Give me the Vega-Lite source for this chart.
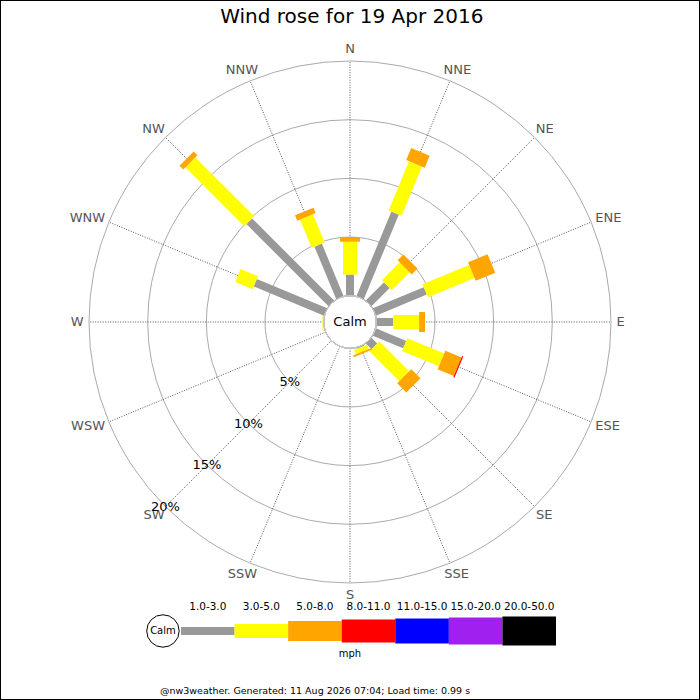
{
  "$schema": "https://vega.github.io/schema/vega-lite/v6.json",
  "width": 700,
  "height": 700,
  "padding": 0,
  "autosize": {"type": "none"},
  "background": "white",
  "config": {
    "font": "DejaVu Sans",
    "view": {"stroke": "black", "strokeWidth": 2},
    "axis": {"disable": true},
    "legend": {"disable": true}
  },
  "datasets": {
    "wind": [
      {"d": "N", "s": "1.0-3.0", "p": 1.8},
      {"d": "N", "s": "3.0-5.0", "p": 2.8},
      {"d": "N", "s": "5.0-8.0", "p": 0.4},
      {"d": "NNE", "s": "1.0-3.0", "p": 7.8},
      {"d": "NNE", "s": "3.0-5.0", "p": 4.55},
      {"d": "NNE", "s": "5.0-8.0", "p": 1.1},
      {"d": "NE", "s": "1.0-3.0", "p": 2.2},
      {"d": "NE", "s": "3.0-5.0", "p": 2.15},
      {"d": "NE", "s": "5.0-8.0", "p": 0.7},
      {"d": "ENE", "s": "1.0-3.0", "p": 4.7},
      {"d": "ENE", "s": "3.0-5.0", "p": 4.3},
      {"d": "ENE", "s": "5.0-8.0", "p": 1.8},
      {"d": "E", "s": "1.0-3.0", "p": 1.45},
      {"d": "E", "s": "3.0-5.0", "p": 2.2},
      {"d": "E", "s": "5.0-8.0", "p": 0.5},
      {"d": "ESE", "s": "1.0-3.0", "p": 2.8},
      {"d": "ESE", "s": "3.0-5.0", "p": 3.4},
      {"d": "ESE", "s": "5.0-8.0", "p": 1.5},
      {"d": "ESE", "s": "8.0-11.0", "p": 0.1},
      {"d": "SE", "s": "1.0-3.0", "p": 0.7},
      {"d": "SE", "s": "3.0-5.0", "p": 3.6},
      {"d": "SE", "s": "5.0-8.0", "p": 1.1},
      {"d": "SSE", "s": "1.0-3.0", "p": 0.1},
      {"d": "SSE", "s": "3.0-5.0", "p": 0.4},
      {"d": "SSE", "s": "5.0-8.0", "p": 0.15},
      {"d": "W", "s": "1.0-3.0", "p": 0},
      {"d": "W", "s": "3.0-5.0", "p": 0.1},
      {"d": "WNW", "s": "1.0-3.0", "p": 6.5},
      {"d": "WNW", "s": "3.0-5.0", "p": 1.6},
      {"d": "NW", "s": "1.0-3.0", "p": 9.9},
      {"d": "NW", "s": "3.0-5.0", "p": 7.1},
      {"d": "NW", "s": "5.0-8.0", "p": 0.45},
      {"d": "NNW", "s": "1.0-3.0", "p": 4.85},
      {"d": "NNW", "s": "3.0-5.0", "p": 2.6},
      {"d": "NNW", "s": "5.0-8.0", "p": 0.5}
    ],
    "dirs": [
      {"d": "N", "deg": 0}, {"d": "NNE", "deg": 22.5}, {"d": "NE", "deg": 45}, {"d": "ENE", "deg": 67.5},
      {"d": "E", "deg": 90}, {"d": "ESE", "deg": 112.5}, {"d": "SE", "deg": 135}, {"d": "SSE", "deg": 157.5},
      {"d": "S", "deg": 180}, {"d": "SSW", "deg": 202.5}, {"d": "SW", "deg": 225}, {"d": "WSW", "deg": 247.5},
      {"d": "W", "deg": 270}, {"d": "WNW", "deg": 292.5}, {"d": "NW", "deg": 315}, {"d": "NNW", "deg": 337.5}
    ],
    "rings": [{"p": 5}, {"p": 10}, {"p": 15}, {"p": 20}],
    "bins": [
      {"s": "1.0-3.0", "i": 0},
      {"s": "3.0-5.0", "i": 1},
      {"s": "5.0-8.0", "i": 2},
      {"s": "8.0-11.0", "i": 3},
      {"s": "11.0-15.0", "i": 4},
      {"s": "15.0-20.0", "i": 5},
      {"s": "20.0-50.0", "i": 6}
    ]
  },
  "layer": [
    {
      "data": {"name": "rings"},
      "mark": {"type": "arc", "filled": false, "stroke": "#aaaaaa", "strokeWidth": 1, "theta": 0, "theta2": 6.2832},
      "encoding": {
        "x": {"datum": 0, "type": "quantitative", "scale": {"domain": [-29.825, 29.825], "nice": false, "zero": false}},
        "y": {"datum": 0, "type": "quantitative", "scale": {"domain": [-32.211, 27.439], "nice": false, "zero": false}},
        "radius": {"field": "p", "type": "quantitative", "stack": null, "scale": {"type": "linear", "domain": [0, 20], "range": [26.3, 261], "zero": false, "nice": false}}
      }
    },
    {
      "data": {"name": "dirs"},
      "transform": [
        {"calculate": "datum.deg * PI / 180", "as": "a"},
        {"calculate": "2.241 * sin(datum.a)", "as": "x0"},
        {"calculate": "2.241 * cos(datum.a)", "as": "y0"},
        {"calculate": "22.241 * sin(datum.a)", "as": "x1"},
        {"calculate": "22.241 * cos(datum.a)", "as": "y1"}
      ],
      "mark": {"type": "rule", "stroke": "#555555", "strokeWidth": 1, "strokeDash": [1, 1.5]},
      "encoding": {
        "x": {"field": "x0", "type": "quantitative", "scale": {"domain": [-29.825, 29.825], "nice": false, "zero": false}},
        "y": {"field": "y0", "type": "quantitative", "scale": {"domain": [-32.211, 27.439], "nice": false, "zero": false}},
        "x2": {"field": "x1"},
        "y2": {"field": "y1"}
      }
    },
    {
      "data": {"name": "dirs"},
      "transform": [
        {"calculate": "datum.deg * PI / 180", "as": "a"},
        {"calculate": "8.25 * length(datum.d) + 1.45 * (length(datum.d) - length(replace(datum.d, regexp('N', 'g'), ''))) + 4.65 * (length(datum.d) - length(replace(datum.d, regexp('W', 'g'), '')))", "as": "w"},
        {"calculate": "(266.5 + datum.w / 2) * sin(datum.a) / 11.735", "as": "lx"},
        {"calculate": "273 * cos(datum.a) / 11.735", "as": "ly"}
      ],
      "mark": {"type": "text", "fontSize": 13, "fill": "#555555", "align": "center", "baseline": "middle"},
      "encoding": {
        "x": {"field": "lx", "type": "quantitative", "scale": {"domain": [-29.825, 29.825], "nice": false, "zero": false}},
        "y": {"field": "ly", "type": "quantitative", "scale": {"domain": [-32.211, 27.439], "nice": false, "zero": false}},
        "text": {"field": "d"}
      }
    },
    {
      "data": {"name": "wind"},
      "transform": [
        {"lookup": "s", "from": {"data": {"name": "bins"}, "key": "s", "fields": ["i"]}},
        {"lookup": "d", "from": {"data": {"name": "dirs"}, "key": "d", "fields": ["deg"]}},
        {"stack": "p", "groupby": ["d"], "sort": [{"field": "i", "order": "ascending"}], "as": ["p0", "p1"]},
        {"calculate": "datum.deg * PI / 180", "as": "a"},
        {"calculate": "(2.241 + datum.p0) * sin(datum.a)", "as": "x0"},
        {"calculate": "(2.241 + datum.p0) * cos(datum.a)", "as": "y0"},
        {"calculate": "(2.241 + datum.p1) * sin(datum.a)", "as": "x1"},
        {"calculate": "(2.241 + datum.p1) * cos(datum.a)", "as": "y1"},
        {"filter": "datum.p > 0"}
      ],
      "mark": {"type": "rule", "strokeCap": "butt"},
      "encoding": {
        "x": {"field": "x0", "type": "quantitative", "scale": {"domain": [-29.825, 29.825], "nice": false, "zero": false}},
        "y": {"field": "y0", "type": "quantitative", "scale": {"domain": [-32.211, 27.439], "nice": false, "zero": false}},
        "x2": {"field": "x1"},
        "y2": {"field": "y1"},
        "color": {"field": "s", "type": "nominal", "scale": {"domain": ["1.0-3.0", "3.0-5.0", "5.0-8.0", "8.0-11.0", "11.0-15.0", "15.0-20.0", "20.0-50.0"], "range": ["#999999", "#ffff00", "#ffa500", "#ff0000", "#0000ff", "#a020f0", "#000000"]}},
        "strokeWidth": {"field": "s", "type": "nominal", "scale": {"type": "ordinal", "domain": ["1.0-3.0", "3.0-5.0", "5.0-8.0", "8.0-11.0", "11.0-15.0", "15.0-20.0", "20.0-50.0"], "range": [8, 14, 20, 23, 25, 27, 29]}}
      }
    },
    {
      "data": {"name": "rings"},
      "transform": [
        {"calculate": "-(2.241 + datum.p) * 0.70711", "as": "lx"},
        {"calculate": "datum.p + '%'", "as": "lab"}
      ],
      "mark": {"type": "text", "fontSize": 13, "fill": "black", "align": "center", "baseline": "middle"},
      "encoding": {
        "x": {"field": "lx", "type": "quantitative", "scale": {"domain": [-29.825, 29.825], "nice": false, "zero": false}},
        "y": {"field": "lx", "type": "quantitative", "scale": {"domain": [-32.211, 27.439], "nice": false, "zero": false}},
        "text": {"field": "lab"}
      }
    },
    {
      "data": {"values": [{"c": "Calm"}]},
      "mark": {"type": "arc", "fill": "white", "stroke": "#c8c8c8", "strokeWidth": 1, "theta": 0, "theta2": 6.2832},
      "encoding": {
        "x": {"datum": 0, "type": "quantitative", "scale": {"domain": [-29.825, 29.825], "nice": false, "zero": false}},
        "y": {"datum": 0, "type": "quantitative", "scale": {"domain": [-32.211, 27.439], "nice": false, "zero": false}},
        "radius": {"datum": 0, "type": "quantitative", "stack": null, "scale": {"type": "linear", "domain": [0, 20], "range": [26.3, 261], "zero": false, "nice": false}}
      }
    },
    {
      "data": {"values": [{"c": "Calm"}]},
      "mark": {"type": "text", "fontSize": 13, "fill": "black", "align": "center", "baseline": "middle"},
      "encoding": {
        "x": {"datum": 0, "type": "quantitative", "scale": {"domain": [-29.825, 29.825], "nice": false, "zero": false}},
        "y": {"datum": 0, "type": "quantitative", "scale": {"domain": [-32.211, 27.439], "nice": false, "zero": false}},
        "text": {"field": "c"}
      }
    },
    {
      "data": {"name": "bins"},
      "transform": [
        {"calculate": "-14.40 + datum.i * 4.565", "as": "lx0"},
        {"calculate": "datum.lx0 + 4.565", "as": "lx1"}
      ],
      "mark": {"type": "rule", "strokeCap": "butt"},
      "encoding": {
        "x": {"field": "lx0", "type": "quantitative", "scale": {"domain": [-29.825, 29.825], "nice": false, "zero": false}},
        "x2": {"field": "lx1"},
        "y": {"datum": -26.33, "type": "quantitative", "scale": {"domain": [-32.211, 27.439], "nice": false, "zero": false}},
        "color": {"field": "s", "type": "nominal", "scale": {"domain": ["1.0-3.0", "3.0-5.0", "5.0-8.0", "8.0-11.0", "11.0-15.0", "15.0-20.0", "20.0-50.0"], "range": ["#999999", "#ffff00", "#ffa500", "#ff0000", "#0000ff", "#a020f0", "#000000"]}},
        "strokeWidth": {"field": "s", "type": "nominal", "scale": {"type": "ordinal", "domain": ["1.0-3.0", "3.0-5.0", "5.0-8.0", "8.0-11.0", "11.0-15.0", "15.0-20.0", "20.0-50.0"], "range": [8, 14, 20, 23, 25, 27, 29]}}
      }
    },
    {
      "data": {"name": "bins"},
      "transform": [
        {"calculate": "-14.40 + datum.i * 4.565 + 2.2825", "as": "lxc"}
      ],
      "mark": {"type": "text", "fontSize": 10.5, "fill": "black", "align": "center", "baseline": "middle"},
      "encoding": {
        "x": {"field": "lxc", "type": "quantitative", "scale": {"domain": [-29.825, 29.825], "nice": false, "zero": false}},
        "y": {"datum": -24.29, "type": "quantitative", "scale": {"domain": [-32.211, 27.439], "nice": false, "zero": false}},
        "text": {"field": "s"}
      }
    },
    {
      "data": {"values": [{"c": "Calm"}]},
      "mark": {"type": "point", "shape": "circle", "filled": true, "fill": "white", "stroke": "black", "strokeWidth": 1, "size": 1052, "opacity": 1},
      "encoding": {
        "x": {"datum": -15.94, "type": "quantitative", "scale": {"domain": [-29.825, 29.825], "nice": false, "zero": false}},
        "y": {"datum": -26.33, "type": "quantitative", "scale": {"domain": [-32.211, 27.439], "nice": false, "zero": false}}
      }
    },
    {
      "data": {"values": [{"c": "Calm"}]},
      "mark": {"type": "text", "fontSize": 10, "fill": "black", "align": "center", "baseline": "middle"},
      "encoding": {
        "x": {"datum": -15.94, "type": "quantitative", "scale": {"domain": [-29.825, 29.825], "nice": false, "zero": false}},
        "y": {"datum": -26.33, "type": "quantitative", "scale": {"domain": [-32.211, 27.439], "nice": false, "zero": false}},
        "text": {"field": "c"}
      }
    },
    {
      "data": {"values": [{"c": "mph"}]},
      "mark": {"type": "text", "fontSize": 10, "fill": "black", "align": "center", "baseline": "middle"},
      "encoding": {
        "x": {"datum": 0, "type": "quantitative", "scale": {"domain": [-29.825, 29.825], "nice": false, "zero": false}},
        "y": {"datum": -28.29, "type": "quantitative", "scale": {"domain": [-32.211, 27.439], "nice": false, "zero": false}},
        "text": {"field": "c"}
      }
    },
    {
      "data": {"values": [{"c": "Wind rose for 19 Apr 2016"}]},
      "mark": {"type": "text", "fontSize": 20, "fill": "black", "align": "center", "baseline": "middle"},
      "encoding": {
        "x": {"datum": 0.15, "type": "quantitative", "scale": {"domain": [-29.825, 29.825], "nice": false, "zero": false}},
        "y": {"datum": 25.99, "type": "quantitative", "scale": {"domain": [-32.211, 27.439], "nice": false, "zero": false}},
        "text": {"field": "c"}
      }
    },
    {
      "data": {"values": [{"c": "@nw3weather. Generated: 11 Aug 2026 07:04; Load time: 0.99 s"}]},
      "mark": {"type": "text", "fontSize": 9.5, "fill": "black", "align": "center", "baseline": "middle"},
      "encoding": {
        "x": {"datum": -2.98, "type": "quantitative", "scale": {"domain": [-29.825, 29.825], "nice": false, "zero": false}},
        "y": {"datum": -31.44, "type": "quantitative", "scale": {"domain": [-32.211, 27.439], "nice": false, "zero": false}},
        "text": {"field": "c"}
      }
    }
  ]
}
